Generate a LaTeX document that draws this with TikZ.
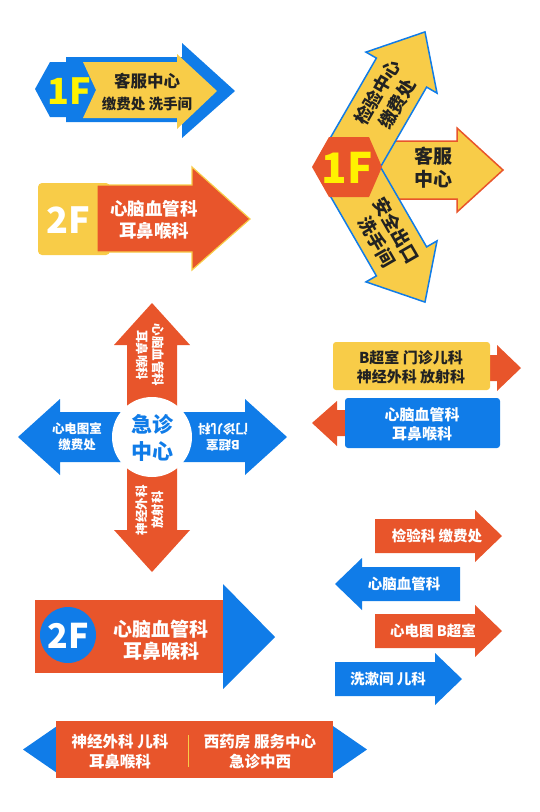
\documentclass[tikz,border=0pt]{standalone}
\usepackage{fontspec}
\setmainfont{Noto Sans CJK SC}
\definecolor{cblue}{RGB}{16,124,232}
\definecolor{corange}{RGB}{232,85,43}
\definecolor{cyellow}{RGB}{248,204,72}
\definecolor{cdark}{RGB}{34,34,34}
\definecolor{cfloor}{RGB}{255,242,0}
\tikzset{
  lbl/.style 2 args={font=\bfseries\fontsize{#1}{#2}\selectfont, align=center, inner sep=0pt},
  big/.style={font=\bfseries\fontsize{#1}{#1}\selectfont, inner sep=0pt},
  blueline/.style={line width=1.5pt, draw=cblue, fill=cyellow},
  redline/.style={line width=1.5pt, draw=corange, fill=cyellow}
}
\newcommand{\fsz}[2]{\fontsize{#1}{#2}\selectfont}
\begin{document}
\begin{tikzpicture}[x=1pt,y=-1pt]
\useasboundingbox (0,0) rectangle (539,812);

\fill[cblue] (35,89) -- (50,62) -- (66,62) -- (66,57) -- (182,57) -- (182,43) -- (235,91) -- (182,138) -- (182,122) -- (66,122) -- (66,117) -- (50,117) -- cycle;
\fill[cyellow] (83,62) -- (177,62) -- (177,54) -- (217,91) -- (177,129) -- (177,118) -- (83,118) -- (96,90) -- cycle;
\node[big=36, text=cfloor] (floorA) at (69,91) {1F};
\node[lbl={16.5}{22}, text=cdark] (servA) at (147,92) {客服中心\\\fsz{14.5}{22}缴费处 洗手间};

\fill[cyellow, rounded corners=4pt] (38,183) rectangle (110,255);
\draw[line width=1.2pt, draw=cyellow, fill=corange] (97,185) -- (192,185) -- (192,167) -- (250,219) -- (192,270) -- (192,252) -- (97,252) -- cycle;
\node[big=36, text=white] (floorB) at (68,220) {2F};
\node[lbl={17.5}{22}, text=white] (heartB) at (154,220) {心脑血管科\\耳鼻喉科};

\draw[redline] (360,141) -- (457,141) -- (457,128) -- (503,170) -- (457,212) -- (457,199) -- (360,199) -- cycle;
\begin{scope}[shift={(347,167)}, rotate=60]
  \draw[blueline] (5,-29) -- (109,-29) -- (109,-41) -- (156,0) -- (109,41) -- (109,29) -- (5,29) -- cycle;
\end{scope}
\begin{scope}[shift={(347,167)}, rotate=-60]
  \draw[blueline] (5,-29) -- (109,-29) -- (109,-41) -- (156,0) -- (109,41) -- (109,29) -- (5,29) -- cycle;
\end{scope}
\fill[corange] (312,167) -- (329,137) -- (369,137) -- (382,167) -- (369,197) -- (329,197) -- cycle;
\node[big=42, text=cfloor] (floorC) at (347,168) {1F};
\node[lbl={18}{23}, text=cdark, rotate=60] (labC) at (387,98) {检验中心\\缴费处};
\node[lbl={18}{23}, text=cdark, rotate=-60] (exitC) at (387,236) {安全出口\\洗手间};
\node[lbl={19}{23}, text=cdark] (servC) at (433,168) {客服\\中心};

\fill[cblue] (18,437) -- (60,399) -- (60,412) -- (245,412) -- (245,399) -- (287,437) -- (245,475) -- (245,462) -- (60,462) -- (60,475) -- cycle;
\fill[corange] (152,303) -- (190,345) -- (177,345) -- (177,530) -- (190,530) -- (152,572) -- (114,530) -- (127,530) -- (127,345) -- (114,345) -- cycle;
\fill[white] (152,437) circle (40);
\node[lbl={21}{27}, text=cblue] (hub) at (152,438) {急诊\\中心};
\node[lbl={12.5}{16}, text=white, rotate=-90] (hubN) at (150,355) {心脑血管科\\耳鼻喉科};
\node[lbl={12.5}{16}, text=white, rotate=90] (hubS) at (150,510) {神经外科\\放射科};
\node[lbl={12.5}{16}, text=white] (hubW) at (77,437) {心电图室\\缴费处};
\node[lbl={12.5}{16}, text=white, rotate=180] (hubE) at (223,437) {B超室\\门诊儿科};

\fill[corange] (480,355) -- (497,355) -- (497,345) -- (521,368) -- (497,391) -- (497,381) -- (480,381) -- cycle;
\fill[cyellow, rounded corners=3pt] (333,342) rectangle (490,390);
\node[lbl={15}{19.5}, text=cdark] (tagA) at (411,367) {B超室 门诊儿科\\神经外科 放射科};
\fill[corange] (355,410) -- (337,410) -- (337,401) -- (312,423) -- (337,446) -- (337,436) -- (355,436) -- cycle;
\fill[cblue, rounded corners=3pt] (345,398) rectangle (500,448);
\node[lbl={15}{19.5}, text=white] (tagB) at (422,424) {心脑血管科\\耳鼻喉科};

\fill[corange] (375,519) -- (475,519) -- (475,510) -- (502,536) -- (475,562) -- (475,553) -- (375,553) -- cycle;
\node[lbl={14.5}{17}, text=white] (signA) at (437,536) {检验科 缴费处};
\fill[cblue] (460,567) -- (362,567) -- (362,558) -- (335,584) -- (362,610) -- (362,601) -- (460,601) -- cycle;
\node[lbl={14.5}{17}, text=white] (signB) at (404,584) {心脑血管科};
\fill[corange] (375,614) -- (475,614) -- (475,605) -- (502,631) -- (475,657) -- (475,648) -- (375,648) -- cycle;
\node[lbl={14.5}{17}, text=white] (signC) at (433,631) {心电图 B超室};
\fill[cblue] (335,662) -- (435,662) -- (435,653) -- (462,679) -- (435,705) -- (435,696) -- (335,696) -- cycle;
\node[lbl={14.5}{17}, text=white] (signD) at (388,679) {洗漱间 儿科};

\fill[corange] (35,600) rectangle (224,673);
\fill[cblue] (223,584) -- (275,637) -- (223,689) -- cycle;
\fill[cblue] (68,635) circle (28);
\node[big=34, text=white] (floorD) at (68,636) {2F};
\node[lbl={19}{22}, text=white] (heartD) at (161,640) {心脑血管科\\耳鼻喉科};

\fill[cblue] (60,724) -- (23,749.5) -- (60,775) -- cycle;
\fill[cblue] (330,724) -- (367,749.5) -- (330,775) -- cycle;
\fill[corange] (56,721) rectangle (333,778);
\draw[cyellow, line width=0.8pt] (188,735) -- (188,767);
\node[lbl={15.5}{20}, text=white] (barL) at (120,752) {神经外科 儿科\\耳鼻喉科};
\node[lbl={15.5}{20}, text=white] (barR) at (260,752) {西药房 服务中心\\急诊中西};
\end{tikzpicture}
\end{document}
